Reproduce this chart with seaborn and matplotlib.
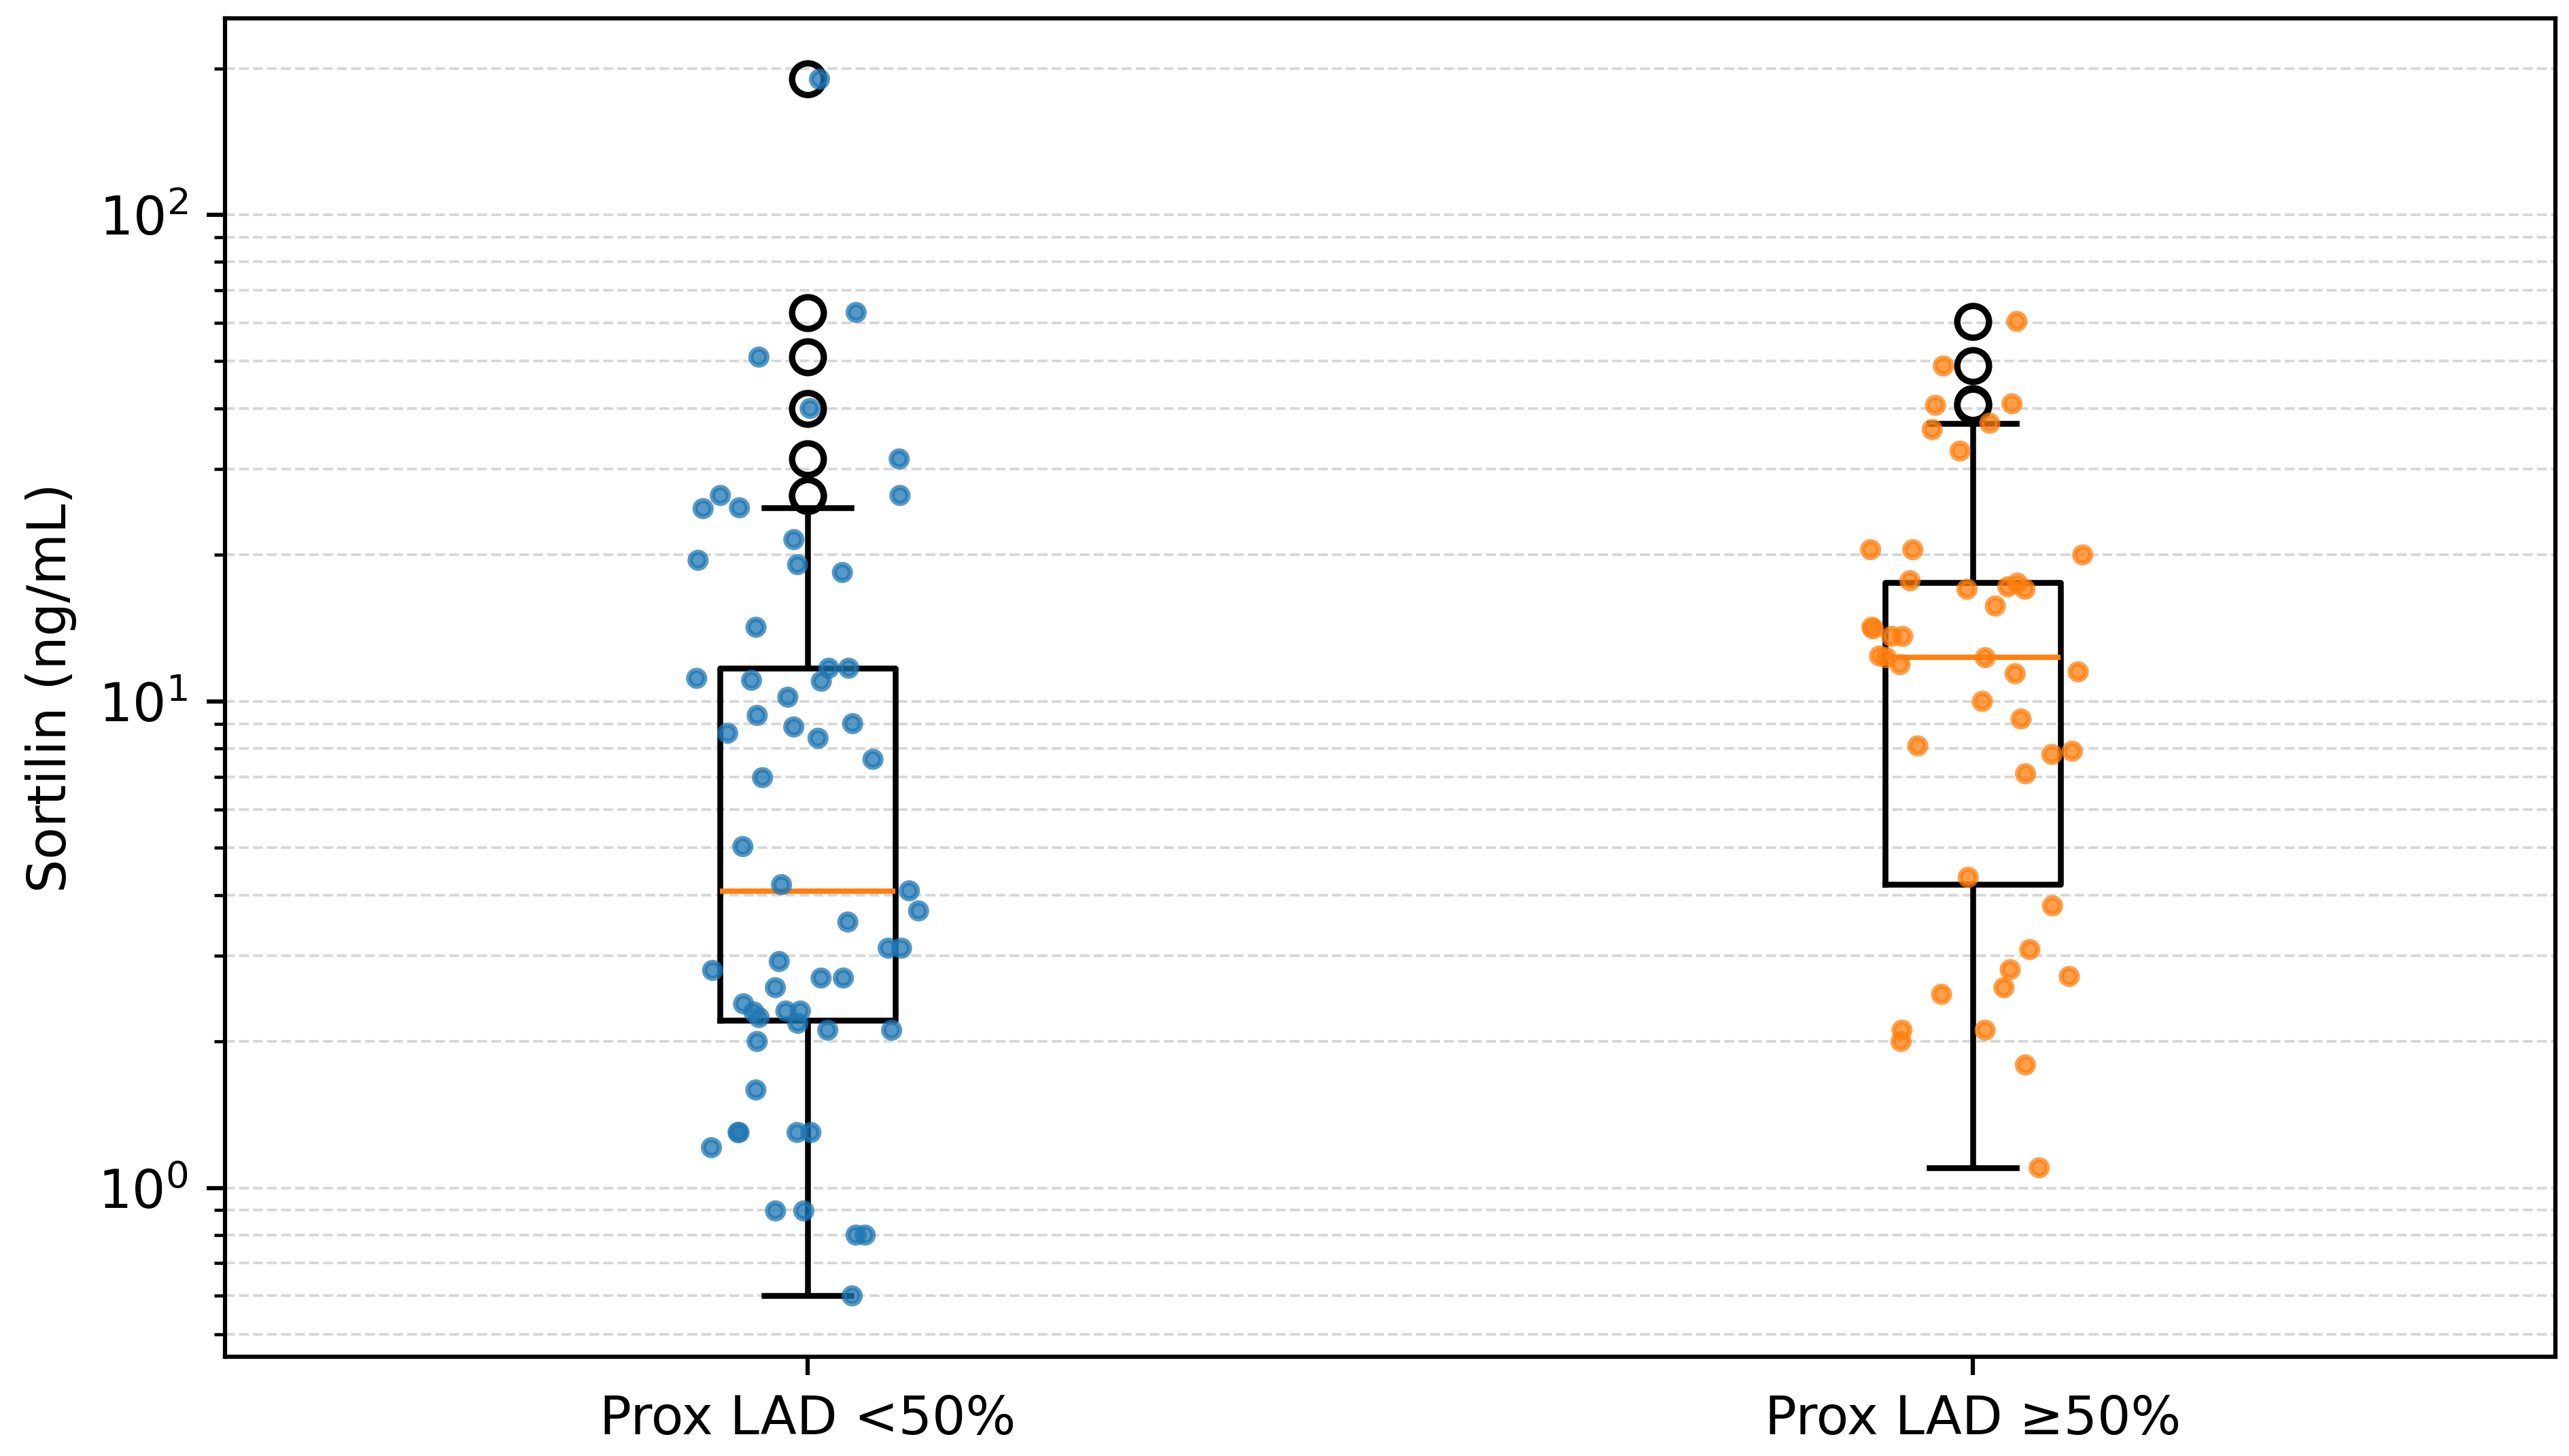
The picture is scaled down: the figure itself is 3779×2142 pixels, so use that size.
import numpy as np
import pandas as pd
import seaborn as sns
import matplotlib.pyplot as plt

# groups and sortilin values (ng/mL)
group_labels = ["Prox LAD <50%", "Prox LAD \u226550%"]
group_colors = ["#1f77b4", "#ff7f0e"]

sortilin_lt50 = [190, 63, 51, 40, 31.5, 26.5, 26.5, 25.0, 24.9, 21.5,
                 19.5, 19.1, 18.4, 14.2, 11.7, 11.7, 11.15, 11.0, 11.05, 10.2,
                 9.36, 9.0, 8.86, 8.6, 8.4, 7.6, 6.97, 5.03, 4.2, 4.08,
                 3.71, 3.52, 3.11, 3.11, 2.92, 2.8, 2.70, 2.70, 2.58, 2.39,
                 2.31, 2.31, 2.30, 2.24, 2.18, 2.11, 2.11, 2.0, 1.59, 1.30,
                 1.30, 1.30, 1.30, 1.21, 0.897, 0.897, 0.80, 0.80, 0.6]

sortilin_ge50 = [60.4, 48.9, 40.9, 40.6, 37.3, 36.2, 32.7, 20.5, 20.5, 20.0,
                 17.7, 17.5, 17.2, 17.0, 17.0, 15.7, 14.2, 14.1, 13.6, 13.6,
                 12.4, 12.3, 12.3, 11.9, 11.5, 11.4, 10.0, 9.2, 8.1, 7.9,
                 7.78, 7.1, 4.35, 3.8, 3.09, 2.81, 2.72, 2.58, 2.5, 2.11,
                 2.11, 2.0, 1.79, 1.10]

df = pd.DataFrame({
    "group": [group_labels[0]] * len(sortilin_lt50) + [group_labels[1]] * len(sortilin_ge50),
    "sortilin": sortilin_lt50 + sortilin_ge50,
})

DPI = 560
fig, ax = plt.subplots(figsize=(3779 / DPI, 2142 / DPI))
fig.subplots_adjust(left=0.0876, right=0.9947, bottom=0.0682, top=0.9874)

# box plot first (stats on the linear values), log scale set afterwards
sns.boxplot(data=df, x="group", y="sortilin", order=group_labels,
            fill=False, color="black", width=0.15, linewidth=1.1,
            whis=1.5, ax=ax,
            medianprops={"color": "#ff7f0e", "linewidth": 1.0},
            flierprops={"marker": "o", "markersize": 6,
                        "markerfacecolor": "none", "markeredgecolor": "black",
                        "markeredgewidth": 1.2})

np.random.seed(3)
sns.stripplot(data=df, x="group", y="sortilin", order=group_labels,
              hue="group", hue_order=group_labels, palette=group_colors,
              jitter=0.1, size=3.0, alpha=0.75, linewidth=1.0,
              legend=False, zorder=3, ax=ax)
for coll in ax.collections:
    coll.set_edgecolor(coll.get_facecolor())

ax.set_yscale("log")
ax.set_xlabel("")
ax.set_ylabel("Sortilin (ng/mL)")

ax.yaxis.grid(True, which="both", linestyle="--", linewidth=0.5,
              color="#b0b0b0", alpha=0.5)
ax.xaxis.grid(False)
ax.set_axisbelow(True)

fig.savefig("out.png", dpi=DPI)
